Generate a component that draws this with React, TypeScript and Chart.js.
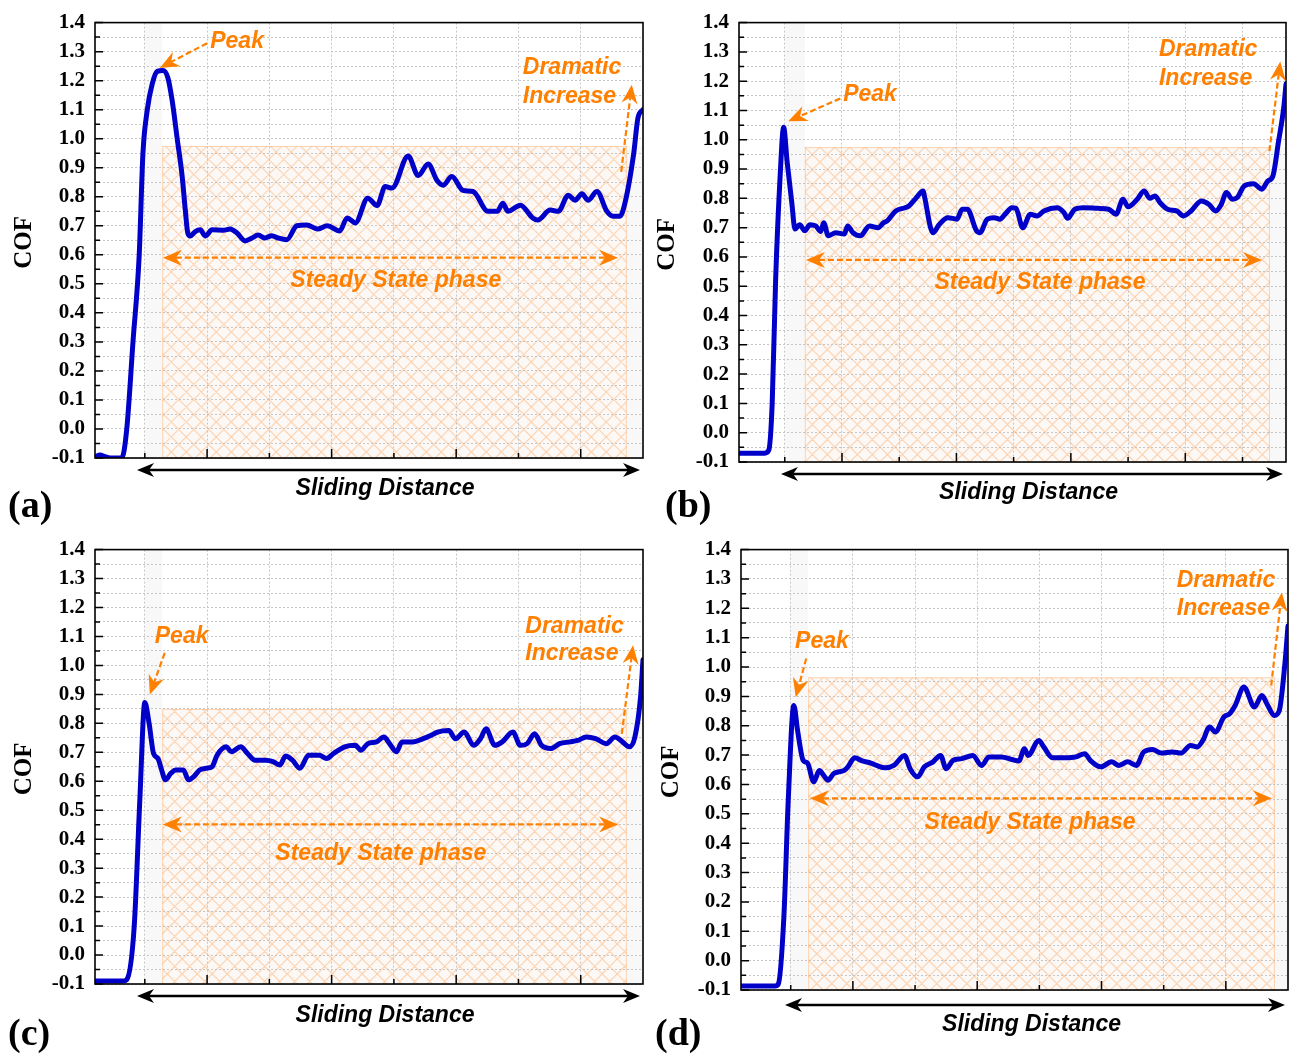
import React, { useEffect, useRef } from 'react';
import { Chart, registerables } from 'chart.js';

Chart.register(...registerables);

// ---------- data (sliding distance in arbitrary units, COF) ----------
const A_DIST = [0,0.8,1.6,2.4,4.3,5.1,6.1,7.1,7.7,8.4,9.2,10.0,10.9,11.7,12.4,13.2,14.0,14.5,14.9,15.3,16.1,16.9,17.7,18.8,20.6,21.7,22.8,24.1,25.2,26.2,27.3,28.4,29.4,30.8,32.4,34.0,35.7,37.3,39.3,40.5,41.8,43.8,45.3,46.6,47.7,50.3,51.9,53.5,54.9,55.9,57.3,59.1,60.7,63.1,64.6,65.5,66.3,68.3,70.3,71.1,73.1,74.4,76.0,77.1,78.2,79.2,80.6,82.2,83.2,84.3,85.1,86.5,87.2,88.0];
const A_COF = [-0.095,-0.09,-0.095,-0.1,-0.1,0.0,0.3,0.6,0.95,1.1,1.19,1.232,1.235,1.21,1.13,1.0,0.87,0.754,0.675,0.665,0.68,0.686,0.665,0.686,0.685,0.689,0.675,0.648,0.658,0.668,0.658,0.666,0.658,0.652,0.70,0.703,0.689,0.70,0.682,0.727,0.71,0.795,0.77,0.835,0.83,0.94,0.873,0.913,0.857,0.84,0.87,0.822,0.818,0.75,0.75,0.778,0.75,0.771,0.727,0.72,0.754,0.75,0.805,0.788,0.81,0.788,0.818,0.75,0.733,0.733,0.778,0.948,1.073,1.10];

const B_DIST = [0,4.5,5.2,5.8,6.4,7.2,7.8,8.4,9.2,9.8,10.6,11.5,12.4,13.4,14.3,14.8,15.6,16.9,18.4,19.0,19.9,21.2,22.8,24.3,25.3,25.9,27.4,29.0,29.7,30.9,32.2,32.4,33.9,35.0,36.5,38.1,39.0,39.9,41.5,42.1,43.4,44.6,45.6,46.5,47.7,48.4,49.6,50.9,52.1,53.3,55.6,56.8,57.4,58.7,60.2,62.7,64.6,65.9,67.1,68.0,69.6,70.8,71.8,72.7,73.6,74.9,76.5,77.7,79.0,80.8,82.1,83.3,84.3,85.2,86.2,87.1,88.3,89.9,91.4,92.4,93.3,94.3,95.2,95.6];
const B_COF = [-0.07,-0.07,-0.06,0.1,0.52,0.88,1.043,0.927,0.79,0.695,0.71,0.69,0.71,0.706,0.687,0.717,0.672,0.683,0.678,0.706,0.683,0.672,0.706,0.70,0.717,0.723,0.757,0.768,0.774,0.80,0.825,0.808,0.683,0.711,0.734,0.729,0.763,0.763,0.69,0.683,0.729,0.734,0.729,0.746,0.768,0.766,0.70,0.746,0.74,0.757,0.768,0.751,0.732,0.763,0.768,0.766,0.763,0.746,0.797,0.771,0.797,0.825,0.80,0.808,0.785,0.763,0.757,0.74,0.757,0.791,0.78,0.757,0.78,0.82,0.797,0.803,0.842,0.85,0.831,0.859,0.876,0.995,1.109,1.19];

const C_DIST = [0,4.5,5.1,6.3,7.2,8.0,8.7,9.4,10.1,10.7,11.3,12.2,13.0,14.2,15.0,15.9,16.8,17.9,18.8,19.6,21.1,21.9,23.4,24.5,25.7,27.4,28.6,29.7,30.6,31.7,32.9,34.3,36.0,37.2,38.3,40.1,41.8,42.7,43.8,45.2,46.4,47.3,48.4,49.3,51.0,52.7,53.9,55.0,56.8,57.9,59.3,60.8,61.9,62.8,64.2,65.4,67.1,68.3,69.4,70.6,71.7,73.2,74.6,76.3,77.5,78.9,80.4,82.1,83.5,84.7,85.8,86.7,87.6,88.0];
const C_COF = [-0.09,-0.09,-0.085,0.1,0.537,0.872,0.798,0.696,0.679,0.639,0.605,0.628,0.639,0.639,0.605,0.617,0.639,0.645,0.65,0.69,0.719,0.702,0.719,0.696,0.673,0.673,0.668,0.656,0.687,0.673,0.645,0.69,0.69,0.679,0.696,0.719,0.724,0.707,0.73,0.736,0.753,0.73,0.702,0.736,0.736,0.747,0.758,0.77,0.775,0.747,0.77,0.724,0.747,0.781,0.724,0.736,0.77,0.724,0.73,0.764,0.724,0.713,0.73,0.736,0.741,0.753,0.747,0.73,0.753,0.736,0.719,0.753,0.889,1.02];

const D_DIST = [0,5.5,6.0,6.9,7.6,8.5,9.1,10.0,10.7,11.7,12.6,13.3,14.0,14.9,15.7,16.6,17.2,18.3,19.5,20.9,21.8,23.2,24.6,26.3,27.2,28.4,29.5,30.9,32.1,33.0,34.1,35.5,37.3,38.7,39.9,41.9,43.6,44.7,45.6,46.2,47.9,48.7,50.1,52.1,53.9,55.3,56.2,57.9,59.6,60.8,62.2,63.6,64.8,66.2,67.6,69.4,70.8,72.3,73.4,74.3,75.4,76.3,77.7,78.6,79.5,80.9,82.6,83.8,84.6,85.8,86.6,87.5,88.0];
const D_COF = [-0.086,-0.086,-0.08,0.15,0.546,0.869,0.784,0.682,0.673,0.609,0.648,0.631,0.614,0.637,0.643,0.648,0.66,0.691,0.68,0.673,0.665,0.657,0.665,0.699,0.654,0.626,0.66,0.677,0.699,0.654,0.682,0.688,0.699,0.665,0.694,0.694,0.685,0.68,0.722,0.699,0.75,0.728,0.691,0.691,0.694,0.705,0.682,0.66,0.677,0.665,0.677,0.665,0.711,0.719,0.707,0.711,0.707,0.733,0.728,0.75,0.796,0.779,0.83,0.841,0.869,0.932,0.864,0.903,0.875,0.835,0.852,1.011,1.14];

// ---------- ticks & labels ----------
const Y_TICK_LABELS = ['-0.1','0.0','0.1','0.2','0.3','0.4','0.5','0.6','0.7','0.8','0.9','1.0','1.1','1.2','1.3','1.4'];
const Y_MIN = -0.1;
const Y_MAX = 1.4;
const X_MAJOR = [18, 38, 58, 78];
const X_MINOR_88 = [8, 28, 48, 68];
const X_MINOR_96 = [8, 28, 48, 68, 88];

const TXT_PEAK = 'Peak';
const TXT_DRAM = ['Dramatic', 'Increase'];
const TXT_STEADY = 'Steady State phase';
const TXT_XTITLE = 'Sliding Distance';
const TXT_YTITLE = 'COF';

const ORANGE = '#FF8000';
const BLUE = '#0000C8';
const SANS = '"Liberation Sans", Arial, sans-serif';
const SERIF = '"Liberation Serif", "Times New Roman", serif';

const Y_GRID: number[] = [];
for (let i = 0; i <= 30; i++) Y_GRID.push(Math.round((Y_MIN + i * 0.05) * 100) / 100);

function yLabel(v: number): string {
  const idx = Math.round((v - Y_MIN) * 10);
  if (Math.abs(v - (Y_MIN + idx * 0.1)) < 1e-6) return Y_TICK_LABELS[idx] ?? '';
  return '';
}

const PANELS = [
  { label: '(a)', left: 0, top: 0, w: 645, h: 527, padTop: 17, padRight: 2, yWidth: 95, xHeight: 69, xMax: 88,
    dist: A_DIST, cof: A_COF, minor: X_MINOR_88,
    hatch: [10.8, 85.4, 0.975], peakText: [18.5, 1.335], peakArrow: [18.0, 1.329, 10.4, 1.244],
    dramText: [68.7, 1.244, 1.145], dramArrow: [84.5, 0.886, 86.2, 1.186],
    steadyText: [48.3, 0.512], steadyArrow: [10.9, 84.0, 0.59],
    axDy: 12, axX0: 42, axX1: 3, tDx: 16, tDy: 31, labelX: 8, labelDy: 49, cofX: 25 },
  { label: '(b)', left: 645, top: 0, w: 645, h: 527, padTop: 21, padRight: 4, yWidth: 94, xHeight: 65, xMax: 95.6,
    dist: B_DIST, cof: B_COF, minor: X_MINOR_96,
    hatch: [11.5, 92.8, 0.975], peakText: [18.2, 1.155], peakArrow: [17.7, 1.141, 8.6, 1.063],
    dramText: [73.4, 1.308, 1.21], dramArrow: [92.7, 0.961, 94.6, 1.267],
    steadyText: [52.6, 0.512], steadyArrow: [11.7, 91.4, 0.59],
    axDy: 12, axX0: 42, axX1: 3, tDx: 16, tDy: 31, labelX: 20, labelDy: 45, cofX: 23 },
  { label: '(c)', left: 0, top: 527, w: 645, h: 528, padTop: 16, padRight: 2, yWidth: 95, xHeight: 71, xMax: 88,
    dist: C_DIST, cof: C_COF, minor: X_MINOR_88,
    hatch: [10.8, 85.4, 0.85], peakText: [9.6, 1.1], peakArrow: [11.2, 1.043, 8.8, 0.9],
    dramText: [69.1, 1.135, 1.04], dramArrow: [84.6, 0.764, 86.4, 1.07],
    steadyText: [45.9, 0.349], steadyArrow: [10.9, 84.0, 0.451],
    axDy: 12, axX0: 42, axX1: 3, tDx: 16, tDy: 32, labelX: 8, labelDy: 51, cofX: 25 },
  { label: '(d)', left: 645, top: 527, w: 645, h: 528, padTop: 22, padRight: 2, yWidth: 96, xHeight: 65, xMax: 88,
    dist: D_DIST, cof: D_COF, minor: X_MINOR_88,
    hatch: [10.8, 85.9, 0.965], peakText: [8.7, 1.087], peakArrow: [10.5, 1.029, 8.8, 0.897],
    dramText: [70.1, 1.295, 1.2], dramArrow: [85.3, 0.937, 87.0, 1.254],
    steadyText: [46.5, 0.471], steadyArrow: [11.1, 85.4, 0.553],
    axDy: 15, axX0: 44, axX1: 3, tDx: 17, tDy: 35, labelX: 10, labelDy: 45, cofX: 27 },
];

function head(ctx: CanvasRenderingContext2D, fx: number, fy: number, tx: number, ty: number, len: number, half: number, notch: number, color: string) {
  const a = Math.atan2(ty - fy, tx - fx);
  ctx.save();
  ctx.translate(tx, ty);
  ctx.rotate(a);
  ctx.beginPath();
  ctx.moveTo(0, 0);
  ctx.lineTo(-len, -half);
  ctx.lineTo(-len + notch, 0);
  ctx.lineTo(-len, half);
  ctx.closePath();
  ctx.fillStyle = color;
  ctx.fill();
  ctx.restore();
}

function arrow(ctx: CanvasRenderingContext2D, fx: number, fy: number, tx: number, ty: number, both: boolean, color: string, width: number, dash: number[], len: number, half: number, notch: number) {
  const d = Math.hypot(tx - fx, ty - fy) || 1;
  const ux = (tx - fx) / d, uy = (ty - fy) / d;
  const back = len - notch;
  ctx.save();
  ctx.strokeStyle = color;
  ctx.lineWidth = width;
  ctx.setLineDash(dash);
  ctx.beginPath();
  ctx.moveTo(both ? fx + ux * back : fx, both ? fy + uy * back : fy);
  ctx.lineTo(tx - ux * back, ty - uy * back);
  ctx.stroke();
  ctx.restore();
  head(ctx, fx, fy, tx, ty, len, half, notch, color);
  if (both) head(ctx, tx, ty, fx, fy, len, half, notch, color);
}

function makeDecor(p: any) {
  return {
    id: 'decor' + p.label,
    beforeDraw(chart: any) {
      const { ctx, chartArea: ca, scales } = chart;
      const x = scales.x, y = scales.y;
      ctx.save();
      ctx.fillStyle = '#ffffff';
      ctx.fillRect(0, 0, chart.width, chart.height);
      const hx0 = x.getPixelForValue(p.hatch[0]);
      const hx1 = x.getPixelForValue(p.hatch[1]);
      const hy = y.getPixelForValue(p.hatch[2]);
      const bandX = x.getPixelForValue(p.minor[0]);
      ctx.fillStyle = '#f8f8f8';
      ctx.fillRect(bandX, ca.top, hx0 - bandX, ca.bottom - ca.top);
      ctx.fillRect(hx1, hy, ca.right - hx1, ca.bottom - hy);
      ctx.fillStyle = '#fbf8f5';
      ctx.fillRect(hx0, hy, hx1 - hx0, ca.bottom - hy);
      ctx.save();
      ctx.beginPath();
      ctx.rect(hx0, hy, hx1 - hx0, ca.bottom - hy);
      ctx.clip();
      ctx.strokeStyle = 'rgba(255,175,110,0.5)';
      ctx.lineWidth = 1.1;
      const h = ca.bottom - hy;
      const sp = 15;
      ctx.beginPath();
      for (let s = hx0 - h; s < hx1 + h; s += sp) {
        ctx.moveTo(s, ca.bottom);
        ctx.lineTo(s + h, hy);
        ctx.moveTo(s, hy);
        ctx.lineTo(s + h, ca.bottom);
      }
      ctx.stroke();
      ctx.restore();
      ctx.strokeStyle = 'rgba(255,180,120,0.55)';
      ctx.lineWidth = 1;
      ctx.strokeRect(hx0 + 0.5, hy + 0.5, hx1 - hx0 - 1, ca.bottom - hy);
      ctx.restore();
    },
    afterDraw(chart: any) {
      const { ctx, chartArea: ca, scales } = chart;
      const x = scales.x, y = scales.y;
      ctx.save();
      // frame
      ctx.strokeStyle = '#000';
      ctx.lineWidth = 1.6;
      ctx.strokeRect(ca.left, ca.top, ca.right - ca.left, ca.bottom - ca.top);
      // inward ticks
      ctx.lineWidth = 1.5;
      ctx.beginPath();
      y.ticks.forEach((t: any) => {
        const py = y.getPixelForValue(t.value);
        const len = yLabel(t.value) !== '' ? 8 : 5;
        ctx.moveTo(ca.left, py);
        ctx.lineTo(ca.left + len, py);
      });
      x.ticks.forEach((t: any) => {
        const px = x.getPixelForValue(t.value);
        const len = X_MAJOR.includes(t.value) ? 9 : 5;
        ctx.moveTo(px, ca.bottom);
        ctx.lineTo(px, ca.bottom - len);
      });
      ctx.stroke();

      // sliding distance arrow + title
      const ay = ca.bottom + p.axDy;
      arrow(ctx, ca.left + p.axX0, ay, ca.right - p.axX1, ay, true, '#000', 2.6, [], 17, 7, 5);
      ctx.fillStyle = '#000';
      ctx.font = `italic bold 23px ${SANS}`;
      ctx.textAlign = 'center';
      ctx.textBaseline = 'middle';
      ctx.fillText(TXT_XTITLE, (ca.left + ca.right) / 2 + p.tDx, ca.bottom + p.tDy);

      // COF
      ctx.save();
      ctx.translate(p.cofX, (ca.top + ca.bottom) / 2 + 2);
      ctx.rotate(-Math.PI / 2);
      ctx.font = `bold 25px ${SERIF}`;
      ctx.fillText(TXT_YTITLE, 0, 0);
      ctx.restore();

      // panel label
      ctx.font = `bold 38px ${SERIF}`;
      ctx.textAlign = 'left';
      ctx.fillText(p.label, p.labelX, ca.bottom + p.labelDy);

      // annotations
      const X = (v: number) => x.getPixelForValue(v);
      const Y = (v: number) => y.getPixelForValue(v);
      ctx.font = `italic bold 23px ${SANS}`;
      ctx.fillStyle = ORANGE;
      ctx.textAlign = 'left';
      ctx.fillText(TXT_PEAK, X(p.peakText[0]), Y(p.peakText[1]));
      ctx.fillText(TXT_DRAM[0], X(p.dramText[0]), Y(p.dramText[1]));
      ctx.fillText(TXT_DRAM[1], X(p.dramText[0]), Y(p.dramText[2]));
      ctx.textAlign = 'center';
      ctx.fillText(TXT_STEADY, X(p.steadyText[0]), Y(p.steadyText[1]));

      arrow(ctx, X(p.peakArrow[0]), Y(p.peakArrow[1]), X(p.peakArrow[2]), Y(p.peakArrow[3]), false, ORANGE, 2.2, [6, 3], 19, 8, 6);
      arrow(ctx, X(p.dramArrow[0]), Y(p.dramArrow[1]), X(p.dramArrow[2]), Y(p.dramArrow[3]), false, ORANGE, 2.2, [6, 3], 19, 8, 6);
      arrow(ctx, X(p.steadyArrow[0]), Y(p.steadyArrow[2]), X(p.steadyArrow[1]), Y(p.steadyArrow[2]), true, ORANGE, 2.2, [6, 3], 19, 8, 6);
      ctx.restore();
    },
  };
}

function Panel({ p }: { p: any }) {
  const ref = useRef<HTMLCanvasElement | null>(null);
  useEffect(() => {
    if (!ref.current) return;
    const points = p.dist.map((d: number, i: number) => ({ x: d, y: p.cof[i] }));
    const gridCommon = { color: '#c6c6c6', lineWidth: 1, drawTicks: false };
    const chart = new Chart(ref.current, {
      type: 'line',
      data: {
        datasets: [{
          data: points,
          borderColor: BLUE,
          borderWidth: 5,
          pointRadius: 0,
          fill: false,
          cubicInterpolationMode: 'monotone',
          borderJoinStyle: 'round',
          borderCapStyle: 'round',
        }],
      },
      options: {
        responsive: false,
        animation: false,
        devicePixelRatio: 1,
        layout: { padding: { top: p.padTop, right: p.padRight, left: 0, bottom: 0 } },
        plugins: { legend: { display: false }, tooltip: { enabled: false } },
        scales: {
          x: {
            type: 'linear',
            min: 0,
            max: p.xMax,
            afterBuildTicks: (s: any) => {
              s.ticks = [...p.minor, ...X_MAJOR].sort((a, b) => a - b).map((v) => ({ value: v }));
            },
            afterFit: (s: any) => { s.height = p.xHeight; },
            ticks: { display: false },
            grid: gridCommon,
            border: { display: false, dash: [2, 2] },
          },
          y: {
            type: 'linear',
            min: Y_MIN,
            max: Y_MAX,
            afterBuildTicks: (s: any) => { s.ticks = Y_GRID.map((v) => ({ value: v })); },
            afterFit: (s: any) => { s.width = p.yWidth; },
            ticks: {
              autoSkip: false,
              padding: 10,
              color: '#000',
              font: { family: SERIF, size: 21, weight: 'bold' },
              callback: (v: any) => yLabel(Number(v)),
            },
            grid: gridCommon,
            border: { display: false, dash: [2, 2] },
          },
        },
      },
      plugins: [makeDecor(p)],
    } as any);
    return () => chart.destroy();
  }, [p]);
  return (
    <canvas
      ref={ref}
      width={p.w}
      height={p.h}
      style={{ position: 'absolute', left: p.left, top: p.top, width: p.w, height: p.h }}
    />
  );
}

export default function App() {
  return (
    <div style={{ position: 'fixed', left: 0, top: 0, width: 1290, height: 1055, background: '#fff', overflow: 'hidden' }}>
      {PANELS.map((p) => <Panel key={p.label} p={p} />)}
    </div>
  );
}
